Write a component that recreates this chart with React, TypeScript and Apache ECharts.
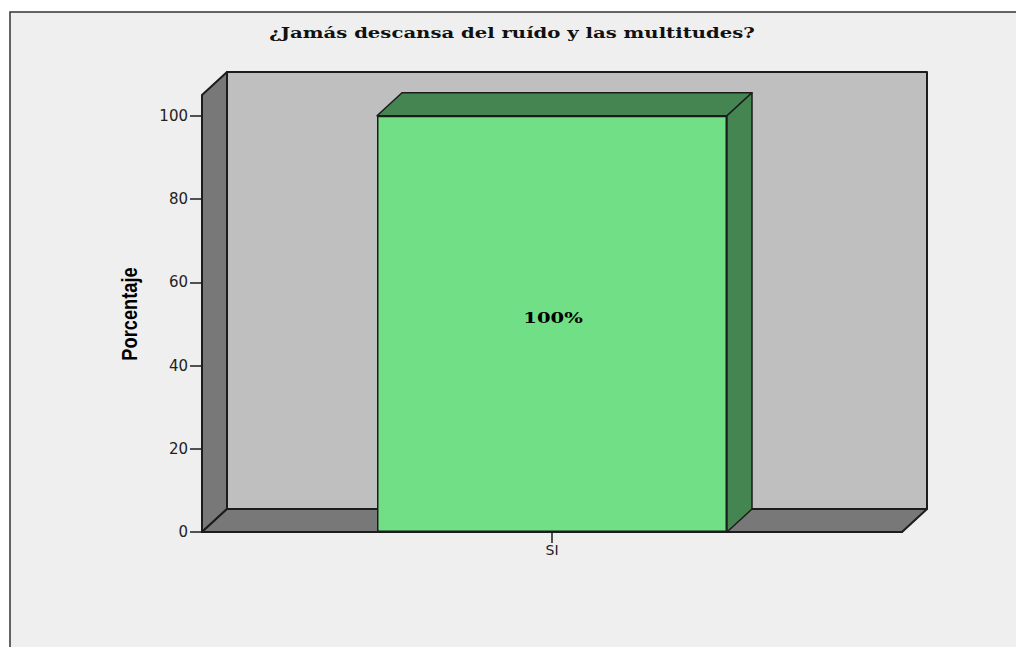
import React, { useEffect, useRef } from "react";
import * as echarts from "echarts";

const titleText = "¿Jamás descansa del ruído y las multitudes?";
const yAxisName = "Porcentaje";
const categories = ["SI"];
const percentages = [100];
const dataLabels = ["100%"];
const yTicks = [0, 20, 40, 60, 80, 100];
const axisMax = 105;

const DX = 25;
const DY = -23;
const LINE = "#1c1c1c";

function wallItem(_p: any, api: any) {
  const xc = api.coord([0, 0])[0];
  const w = api.size([1, 0])[0];
  const y0 = api.coord([0, 0])[1];
  const y1 = api.coord([0, axisMax])[1];
  const l = xc - w / 2;
  const r = xc + w / 2;
  const st = (fill: string) => ({ fill, stroke: LINE, lineWidth: 2, lineJoin: "round" });
  return {
    type: "group",
    children: [
      { type: "rect", shape: { x: l + DX, y: y1 + DY, width: w, height: y0 - y1 }, style: st("#bfbfbf") },
      { type: "polygon", shape: { points: [[l, y1], [l + DX, y1 + DY], [l + DX, y0 + DY], [l, y0]] }, style: st("#787878") },
      { type: "polygon", shape: { points: [[l, y0], [l + DX, y0 + DY], [r + DX, y0 + DY], [r, y0]] }, style: st("#787878") },
    ],
  };
}

function barSideItem(_p: any, api: any) {
  const xc = api.coord([api.value(0), 0])[0];
  const w = api.size([1, 0])[0] / 2;
  const y0 = api.coord([0, 0])[1];
  const yv = api.coord([0, api.value(1)])[1];
  const l = xc - w / 2;
  const r = xc + w / 2;
  const st = { fill: "#448552", stroke: LINE, lineWidth: 1.5, lineJoin: "round" };
  return {
    type: "group",
    children: [
      { type: "polygon", shape: { points: [[l, yv], [l + DX, yv + DY], [r + DX, yv + DY], [r, yv]] }, style: st },
      { type: "polygon", shape: { points: [[r, yv], [r + DX, yv + DY], [r + DX, y0 + DY], [r, y0]] }, style: st },
    ],
  };
}

function barLabelItem(p: any, api: any) {
  const xc = api.coord([api.value(0), 0])[0];
  const ym = api.coord([0, api.value(1) / 2])[1];
  return {
    type: "text",
    x: xc + 1,
    y: ym - 6,
    scaleX: 1.4,
    style: {
      text: dataLabels[p.dataIndex],
      fontFamily: "DejaVu Serif",
      fontWeight: "bold",
      fontSize: 14,
      fill: "#000000",
      align: "center",
      verticalAlign: "middle",
    },
  };
}

export default function App() {
  const ref = useRef<HTMLDivElement>(null);
  useEffect(() => {
    document.body.style.margin = "0";
    document.body.style.background = "#ffffff";
    const chart = echarts.init(ref.current!, null, { renderer: "svg" });
    chart.setOption({
      animation: false,
      backgroundColor: "#ffffff",
      graphic: [
        {
          type: "rect",
          z: -1,
          silent: true,
          shape: { x: 10, y: 12, width: 1020, height: 660 },
          style: { fill: "#efefef", stroke: "#333333", lineWidth: 1.5 },
        },
        {
          type: "text",
          silent: true,
          x: 512,
          y: 32.5,
          scaleX: 1.31,
          style: {
            text: titleText,
            fontFamily: "DejaVu Serif",
            fontWeight: "bold",
            fontSize: 15,
            fill: "#111111",
            align: "center",
            verticalAlign: "middle",
          },
        },
        {
          type: "text",
          silent: true,
          x: 129,
          y: 314,
          rotation: Math.PI / 2,
          scaleX: 0.83,
          style: {
            text: yAxisName,
            fontFamily: "Liberation Sans",
            fontWeight: "bold",
            fontSize: 22,
            fill: "#000000",
            align: "center",
            verticalAlign: "middle",
          },
        },
      ],
      grid: { left: 202, right: 114, top: 95, bottom: 115 },
      xAxis: {
        type: "category",
        data: categories,
        z: 10,
        axisLine: { show: true, lineStyle: { color: LINE, width: 2 } },
        axisTick: { show: true, alignWithLabel: true, length: 11, lineStyle: { color: LINE, width: 1.5 } },
        axisLabel: { color: "#222222", fontFamily: "DejaVu Sans", fontSize: 14, margin: 11 },
      },
      yAxis: {
        type: "value",
        min: 0,
        max: axisMax,
        interval: 20,
        splitLine: { show: false },
        axisLine: { show: false },
        axisTick: { show: true, length: 12, customValues: yTicks, lineStyle: { color: LINE, width: 1.5 } },
        axisLabel: { color: "#222222", fontFamily: "DejaVu Sans", fontSize: 15, margin: 14, customValues: yTicks },
      },
      series: [
        { type: "custom", z: 1, silent: true, renderItem: wallItem, data: [[0]], encode: { x: 0 } },
        {
          type: "custom",
          z: 2,
          silent: true,
          renderItem: barSideItem,
          data: percentages.map((v, i) => [i, v]),
          encode: { x: 0, y: 1 },
        },
        {
          type: "bar",
          z: 3,
          barWidth: "50%",
          data: percentages,
          itemStyle: { color: "#70df86", borderColor: LINE, borderWidth: 1.5 },
        },
        {
          type: "custom",
          z: 4,
          silent: true,
          renderItem: barLabelItem,
          data: percentages.map((v, i) => [i, v]),
          encode: { x: 0, y: 1 },
        },
      ],
    });
    return () => chart.dispose();
  }, []);
  return <div ref={ref} style={{ width: 1016, height: 647 }} />;
}
